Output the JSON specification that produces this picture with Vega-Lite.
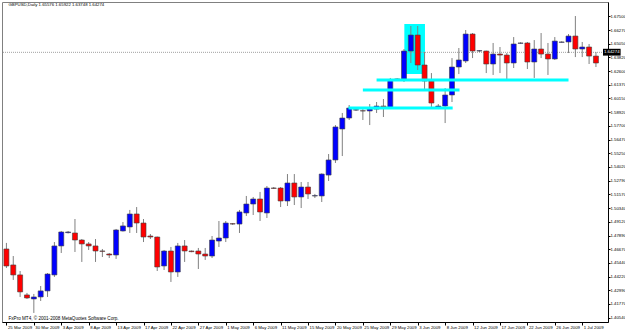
{
  "$schema": "https://vega.github.io/schema/vega-lite/v6.json",
  "width": 606,
  "height": 320,
  "autosize": "none",
  "padding": {"left": 2, "top": 2, "right": 17, "bottom": 8},
  "background": "white",
  "config": {
    "view": {"stroke": "#808080", "strokeWidth": 1},
    "axis": {"grid": false, "labelFont": "Liberation Sans", "labelFontSize": 4.3, "labelColor": "black", "domainColor": "black", "tickColor": "black", "title": null, "labelOverlap": false, "labelBound": false, "labelFlush": false, "tickCount": 1000}
  },
  "datasets": {
    "candles": [
      {"i":0,"o":1.4669,"h":1.4723,"l":1.4499,"c":1.4517},
      {"i":1,"o":1.4526,"h":1.4606,"l":1.4392,"c":1.4437},
      {"i":2,"o":1.4437,"h":1.4472,"l":1.4240,"c":1.4285},
      {"i":3,"o":1.4258,"h":1.4276,"l":1.4222,"c":1.4231},
      {"i":4,"o":1.4222,"h":1.4267,"l":1.4097,"c":1.4240},
      {"i":5,"o":1.4240,"h":1.4338,"l":1.4204,"c":1.4294},
      {"i":6,"o":1.4294,"h":1.4454,"l":1.4240,"c":1.4445},
      {"i":7,"o":1.4437,"h":1.4731,"l":1.4419,"c":1.4696},
      {"i":8,"o":1.4696,"h":1.4830,"l":1.4633,"c":1.4821},
      {"i":9,"o":1.4815,"h":1.4830,"l":1.4808,"c":1.4821},
      {"i":10,"o":1.4812,"h":1.4937,"l":1.4642,"c":1.4749},
      {"i":11,"o":1.4749,"h":1.4758,"l":1.4553,"c":1.4714},
      {"i":12,"o":1.4714,"h":1.4731,"l":1.4660,"c":1.4696},
      {"i":13,"o":1.4696,"h":1.4758,"l":1.4553,"c":1.4651},
      {"i":14,"o":1.4651,"h":1.4669,"l":1.4597,"c":1.4648},
      {"i":15,"o":1.4624,"h":1.4633,"l":1.4588,"c":1.4615},
      {"i":16,"o":1.4615,"h":1.4848,"l":1.4580,"c":1.4839},
      {"i":17,"o":1.4830,"h":1.4910,"l":1.4825,"c":1.4875},
      {"i":18,"o":1.4866,"h":1.5018,"l":1.4812,"c":1.4982},
      {"i":19,"o":1.4982,"h":1.5044,"l":1.4812,"c":1.4901},
      {"i":20,"o":1.4901,"h":1.4937,"l":1.4731,"c":1.4776},
      {"i":21,"o":1.4785,"h":1.4803,"l":1.4758,"c":1.4776},
      {"i":22,"o":1.4776,"h":1.4780,"l":1.4472,"c":1.4508},
      {"i":23,"o":1.4517,"h":1.4660,"l":1.4481,"c":1.4651},
      {"i":24,"o":1.4651,"h":1.4687,"l":1.4374,"c":1.4463},
      {"i":25,"o":1.4463,"h":1.4723,"l":1.4419,"c":1.4696},
      {"i":26,"o":1.4696,"h":1.4749,"l":1.4553,"c":1.4651},
      {"i":27,"o":1.4651,"h":1.4655,"l":1.4640,"c":1.4645},
      {"i":28,"o":1.4651,"h":1.4678,"l":1.4490,"c":1.4624},
      {"i":29,"o":1.4624,"h":1.4678,"l":1.4571,"c":1.4606},
      {"i":30,"o":1.4606,"h":1.4785,"l":1.4588,"c":1.4749},
      {"i":31,"o":1.4740,"h":1.4919,"l":1.4687,"c":1.4767},
      {"i":32,"o":1.4767,"h":1.4919,"l":1.4731,"c":1.4901},
      {"i":33,"o":1.4895,"h":1.4901,"l":1.4885,"c":1.4892},
      {"i":34,"o":1.4892,"h":1.5018,"l":1.4812,"c":1.5000},
      {"i":35,"o":1.4991,"h":1.5143,"l":1.4964,"c":1.5071},
      {"i":36,"o":1.5071,"h":1.5134,"l":1.4973,"c":1.5116},
      {"i":37,"o":1.5116,"h":1.5179,"l":1.4919,"c":1.5000},
      {"i":38,"o":1.4991,"h":1.5232,"l":1.4946,"c":1.5214},
      {"i":39,"o":1.5214,"h":1.5223,"l":1.5205,"c":1.5211},
      {"i":40,"o":1.5214,"h":1.5223,"l":1.5044,"c":1.5098},
      {"i":41,"o":1.5098,"h":1.5339,"l":1.5053,"c":1.5259},
      {"i":42,"o":1.5259,"h":1.5339,"l":1.5062,"c":1.5134},
      {"i":43,"o":1.5134,"h":1.5268,"l":1.5035,"c":1.5223},
      {"i":44,"o":1.5223,"h":1.5268,"l":1.5116,"c":1.5161},
      {"i":45,"o":1.5143,"h":1.5161,"l":1.5125,"c":1.5146},
      {"i":46,"o":1.5143,"h":1.5345,"l":1.5089,"c":1.5339},
      {"i":47,"o":1.5330,"h":1.5518,"l":1.5277,"c":1.5465},
      {"i":48,"o":1.5465,"h":1.5777,"l":1.5438,"c":1.5760},
      {"i":49,"o":1.5742,"h":1.5885,"l":1.5500,"c":1.5840},
      {"i":50,"o":1.5840,"h":1.5956,"l":1.5822,"c":1.5929},
      {"i":51,"o":1.5911,"h":1.5920,"l":1.5903,"c":1.5914},
      {"i":52,"o":1.5905,"h":1.5938,"l":1.5822,"c":1.5903},
      {"i":53,"o":1.5903,"h":1.5965,"l":1.5777,"c":1.5920},
      {"i":54,"o":1.5920,"h":1.5983,"l":1.5885,"c":1.5947},
      {"i":55,"o":1.5947,"h":1.6010,"l":1.5849,"c":1.5929},
      {"i":56,"o":1.5929,"h":1.6198,"l":1.5925,"c":1.6180},
      {"i":57,"o":1.6186,"h":1.6195,"l":1.6180,"c":1.6189},
      {"i":58,"o":1.6189,"h":1.6457,"l":1.6162,"c":1.6439},
      {"i":59,"o":1.6439,"h":1.6663,"l":1.6332,"c":1.6582},
      {"i":60,"o":1.6582,"h":1.6663,"l":1.6269,"c":1.6314},
      {"i":61,"o":1.6314,"h":1.6430,"l":1.6090,"c":1.6171},
      {"i":62,"o":1.6171,"h":1.6242,"l":1.5938,"c":1.5974},
      {"i":63,"o":1.5938,"h":1.5965,"l":1.5920,"c":1.5947},
      {"i":64,"o":1.5947,"h":1.6108,"l":1.5795,"c":1.6046},
      {"i":65,"o":1.6046,"h":1.6376,"l":1.5983,"c":1.6296},
      {"i":66,"o":1.6296,"h":1.6466,"l":1.6233,"c":1.6359},
      {"i":67,"o":1.6350,"h":1.6627,"l":1.6332,"c":1.6591},
      {"i":68,"o":1.6591,"h":1.6600,"l":1.6376,"c":1.6439},
      {"i":69,"o":1.6439,"h":1.6448,"l":1.6430,"c":1.6442},
      {"i":70,"o":1.6439,"h":1.6442,"l":1.6242,"c":1.6323},
      {"i":71,"o":1.6323,"h":1.6511,"l":1.6225,"c":1.6412},
      {"i":72,"o":1.6412,"h":1.6475,"l":1.6242,"c":1.6403},
      {"i":73,"o":1.6403,"h":1.6421,"l":1.6180,"c":1.6332},
      {"i":74,"o":1.6332,"h":1.6564,"l":1.6287,"c":1.6502},
      {"i":75,"o":1.6508,"h":1.6517,"l":1.6505,"c":1.6511},
      {"i":76,"o":1.6511,"h":1.6520,"l":1.6278,"c":1.6341},
      {"i":77,"o":1.6341,"h":1.6537,"l":1.6198,"c":1.6457},
      {"i":78,"o":1.6457,"h":1.6600,"l":1.6376,"c":1.6412},
      {"i":79,"o":1.6412,"h":1.6511,"l":1.6225,"c":1.6368},
      {"i":80,"o":1.6368,"h":1.6564,"l":1.6359,"c":1.6528},
      {"i":81,"o":1.6517,"h":1.6526,"l":1.6514,"c":1.6520},
      {"i":82,"o":1.6520,"h":1.6591,"l":1.6421,"c":1.6573},
      {"i":83,"o":1.6573,"h":1.6752,"l":1.6385,"c":1.6457},
      {"i":84,"o":1.6457,"h":1.6520,"l":1.6385,"c":1.6475},
      {"i":85,"o":1.6475,"h":1.6502,"l":1.6323,"c":1.6394},
      {"i":86,"o":1.6394,"h":1.6430,"l":1.6296,"c":1.6332}
    ],
    "levels": [
      {"x1": 54.0, "x2": 82.0, "p": 1.6180},
      {"x1": 52.0, "x2": 66.1, "p": 1.6090},
      {"x1": 49.9, "x2": 65.1, "p": 1.5929}
    ],
    "box": [{"x1": 58.05, "x2": 61.06, "p1": 1.6680, "p2": 1.6233}],
    "bid": [{"p": 1.64274}],
    "bidbox": [{"x1": 87.03, "x2": 89.6, "p1": 1.6459, "p2": 1.6398, "p": 1.64274, "t": "1.64274"}],
    "notes": [
      {"x": 0.3, "p": 1.6852, "t": "GBPUSD,Daily 1.65576 1.65922 1.63748 1.64274", "s": 4.3},
      {"x": 0.3, "p": 1.4045, "t": "FxPro MT4, © 2001-2008 MetaQuotes Software Corp.", "s": 4.6}
    ]
  },
  "layer": [
    {
      "data": {"name": "box"},
      "mark": {"type": "rect", "color": "#00ffff"},
      "encoding": {
        "x": {"field": "x1", "type": "quantitative", "scale": {"domain": [0.086, 87.03], "nice": false, "zero": false},
          "axis": {"orient": "bottom", "values": [0,4,8,12,16,20,24,28,32,36,40,44,48,52,56,60,64,68,72,76,80,84], "tickCount": 1000,
            "labelExpr": "['25 Mar 2009','30 Mar 2009','3 Apr 2009','8 Apr 2009','13 Apr 2009','17 Apr 2009','22 Apr 2009','27 Apr 2009','1 May 2009','6 May 2009','11 May 2009','15 May 2009','20 May 2009','25 May 2009','29 May 2009','3 Jun 2009','8 Jun 2009','12 Jun 2009','17 Jun 2009','22 Jun 2009','26 Jun 2009','1 Jul 2009'][round(datum.value/4)]",
            "labelAlign": "left", "labelFlush": false, "labelOverlap": false, "labelBound": false, "tickSize": 3, "labelPadding": 0, "labelBaseline": "top", "labelOffset": 1}},
        "x2": {"field": "x2"},
        "y": {"field": "p1", "type": "quantitative", "scale": {"domain": [1.4016, 1.68774], "nice": false, "zero": false},
          "axis": {"orient": "right", "values": [1.675,1.6627,1.6505,1.6382,1.626,1.6137,1.6015,1.5892,1.577,1.5647,1.5525,1.5402,1.5279,1.5157,1.5034,1.4912,1.4789,1.4667,1.4544,1.4422,1.4299,1.4177,1.4054], "tickCount": 1000,
            "format": ".5f", "tickSize": 2, "labelPadding": 0, "labelFlush": false, "labelOverlap": false, "labelBound": false}},
        "y2": {"field": "p2"}
      }
    },
    {
      "data": {"name": "bid"},
      "mark": {"type": "rule", "color": "#a0a0a0", "strokeWidth": 1, "strokeDash": [1, 1]},
      "encoding": {"y": {"field": "p", "type": "quantitative"}}
    },
    {
      "data": {"name": "candles"},
      "mark": {"type": "rule", "color": "#808080", "strokeWidth": 1},
      "encoding": {
        "x": {"field": "i", "type": "quantitative"},
        "y": {"field": "l", "type": "quantitative"},
        "y2": {"field": "h"}
      }
    },
    {
      "data": {"name": "candles"},
      "mark": {"type": "bar", "size": 5, "stroke": "#404040", "strokeWidth": 0.6},
      "encoding": {
        "x": {"field": "i", "type": "quantitative"},
        "y": {"field": "o", "type": "quantitative"},
        "y2": {"field": "c"},
        "fill": {"condition": {"test": "datum.c >= datum.o", "value": "#0000ff"}, "value": "#ff0000"}
      }
    },
    {
      "data": {"name": "levels"},
      "mark": {"type": "rule", "color": "#00ffff", "strokeWidth": 3},
      "encoding": {
        "x": {"field": "x1", "type": "quantitative"},
        "x2": {"field": "x2"},
        "y": {"field": "p", "type": "quantitative"}
      }
    },
    {
      "data": {"name": "bidbox"},
      "mark": {"type": "rect", "color": "black", "clip": false},
      "encoding": {
        "x": {"field": "x1", "type": "quantitative"},
        "x2": {"field": "x2"},
        "y": {"field": "p1", "type": "quantitative"},
        "y2": {"field": "p2"}
      }
    },
    {
      "data": {"name": "bidbox"},
      "mark": {"type": "text", "color": "white", "align": "left", "baseline": "middle", "dx": 1, "font": "Liberation Sans", "fontSize": 4.3, "clip": false},
      "encoding": {
        "x": {"field": "x1", "type": "quantitative"},
        "y": {"field": "p", "type": "quantitative"},
        "text": {"field": "t"}
      }
    },
    {
      "data": {"name": "notes"},
      "mark": {"type": "text", "color": "black", "align": "left", "baseline": "middle", "font": "Liberation Sans"},
      "encoding": {
        "x": {"field": "x", "type": "quantitative"},
        "y": {"field": "p", "type": "quantitative"},
        "text": {"field": "t"},
        "size": {"field": "s", "type": "quantitative", "scale": null}
      }
    }
  ]
}
